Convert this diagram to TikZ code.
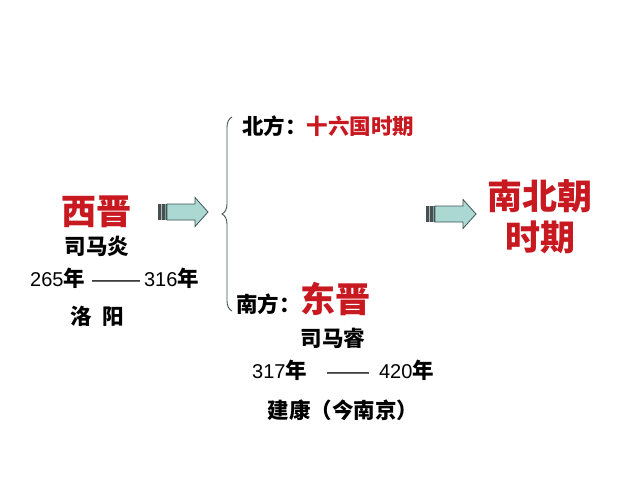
\documentclass[tikz,border=0pt]{standalone}
\usepackage{fontspec}
\setmainfont{Noto Sans CJK SC}
\newfontfamily\latinfont{Liberation Sans}
\usepackage{xcolor}
\usepackage{tikz}
\usetikzlibrary{decorations.pathreplacing}

\definecolor{titlered}{RGB}{200,24,32}
\definecolor{arrowfill}{RGB}{172,216,212}
\definecolor{arrowedge}{RGB}{62,84,84}
\definecolor{tailgray}{RGB}{70,80,80}

% year with Arial-like digits, and a stretched dash
\newcommand\yr[1]{{\latinfont\mdseries\fontsize{20}{24}\selectfont #1}年}
\newcommand\yeardash[1]{{\latinfont\mdseries\fontsize{20}{24}\selectfont\resizebox{#1}{\height}{——}}}

\tikzset{
  pics/blockarrow/.style={code={
    \fill[tailgray] (0,-8) rectangle (9,8);
    \draw[white!60!tailgray, line width=0.9pt] (3,-8) -- (3,8);
    \draw[arrowfill!60!tailgray, line width=0.9pt] (7.5,-8) -- (7.5,8);
    \draw[arrowedge, fill=arrowfill, line width=0.8pt, line join=miter]
      (9,-8) -- (37,-8) -- (37,-14.5) -- (50,0) -- (37,14.5) -- (37,8) -- (9,8) -- cycle;
  }}
}

\begin{document}
\begin{tikzpicture}[
  x=1pt, y=-1pt,
  title/.style={font=\fontsize{35}{41}\selectfont\bfseries, text=titlered, inner sep=0pt, align=center},
  body/.style={font=\fontsize{21.5}{25}\selectfont\bfseries, inner sep=0pt},
  bracket/.style={decorate, decoration={brace, amplitude=10pt}, draw=arrowedge, line width=0.9pt}
]
\useasboundingbox[fill=white] (0,0) rectangle (640,480);

% Western Jin
\node[title] (xijin) at (96,212) {西晋};
\node[body] (simayan) at (97,246) {司马炎};
\node[body, anchor=west] (xjyears) at (30,278) {\yr{265}\hspace{7pt}\yeardash{48pt}\hspace{4pt}\yr{316}};
\node[body] (luoyang) at (97,316) {洛\hspace{11pt}阳};

\pic (toleft) at (158,212) {blockarrow};

% north and south
\coordinate (bracetop) at (232,117);
\coordinate (bracebot) at (232,311);
\draw[bracket] (bracebot) -- (bracetop);

\node[body, anchor=west] (north) at (242,126) {北方：\textcolor{titlered}{十六国时期}};
\node[body, anchor=west] (south) at (236,299) {南方：{\fontsize{35}{40}\selectfont\color{titlered}东晋}};
\node[body] (simarui) at (333,338) {司马睿};
\node[body, anchor=west] (djyears) at (252,370) {\yr{317}\hspace{20pt}\yeardash{42pt}\hspace{10pt}\yr{420}};
\node[body] (jiankang) at (343,410) {建康（今南京）};

\pic (toright) at (426,214) {blockarrow};

% Northern and Southern dynasties
\node[title] (nanbeichao) at (540,217) {南北朝\\时期};
\end{tikzpicture}
\end{document}
